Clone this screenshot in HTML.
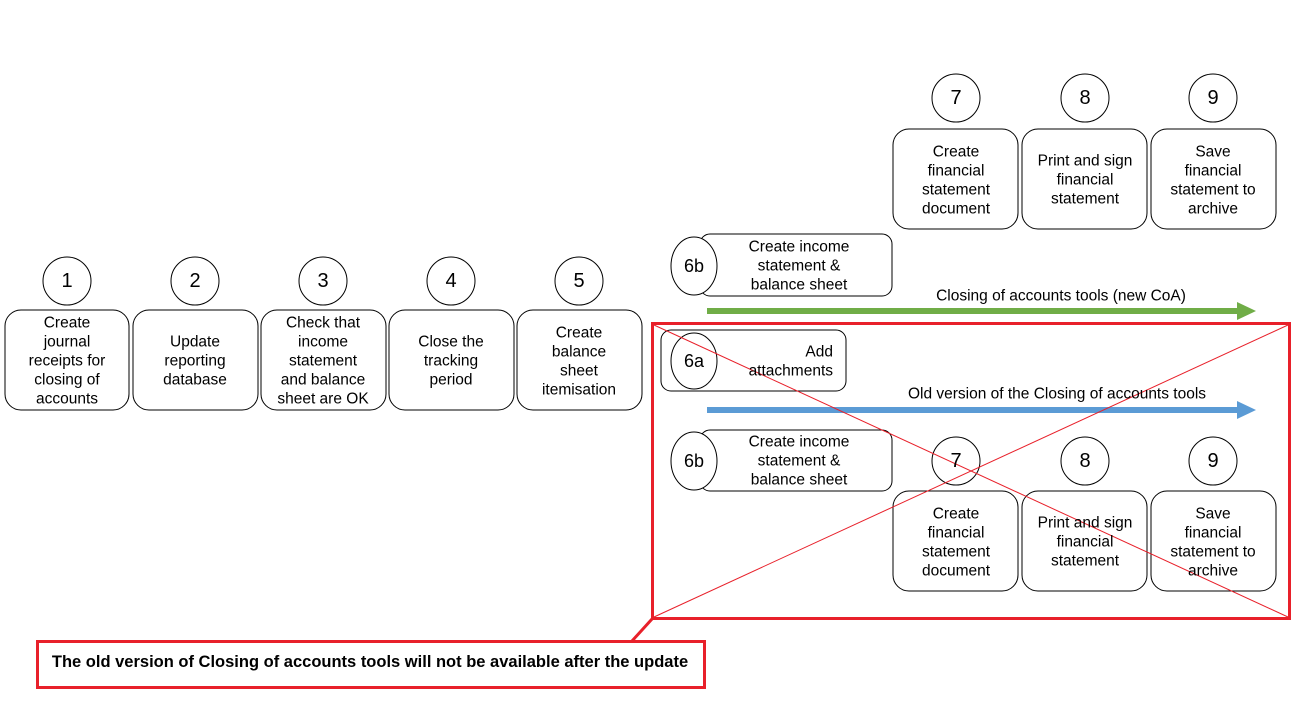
<!DOCTYPE html>
<html><head><meta charset="utf-8"><style>
html,body{margin:0;padding:0;background:#fff;}
svg{display:block;}
text{font-family:"Liberation Sans",sans-serif;font-size:15.5px;fill:#000;}
.n{font-size:20px;}
</style></head><body>
<svg width="1298" height="720" viewBox="0 0 1298 720" xmlns="http://www.w3.org/2000/svg">
<g fill="#fff" stroke="#000" stroke-width="1">
<rect x="5" y="310" width="124" height="100" rx="16"/>
<rect x="133" y="310" width="125" height="100" rx="16"/>
<rect x="261" y="310" width="125" height="100" rx="16"/>
<rect x="389" y="310" width="125" height="100" rx="16"/>
<rect x="517" y="310" width="125" height="100" rx="16"/>
<circle cx="67" cy="281" r="24"/>
<circle cx="195" cy="281" r="24"/>
<circle cx="323" cy="281" r="24"/>
<circle cx="451" cy="281" r="24"/>
<circle cx="579" cy="281" r="24"/>
<rect x="893" y="129" width="125" height="100" rx="16"/>
<rect x="1022" y="129" width="125" height="100" rx="16"/>
<rect x="1151" y="129" width="125" height="100" rx="16"/>
<circle cx="956" cy="98" r="24"/>
<circle cx="1085" cy="98" r="24"/>
<circle cx="1213" cy="98" r="24"/>
<rect x="700" y="234" width="192" height="62" rx="10"/>
<ellipse cx="694" cy="266" rx="23" ry="29"/>
<rect x="661" y="330" width="185" height="61" rx="10"/>
<ellipse cx="694" cy="361" rx="23" ry="28"/>
<rect x="700" y="430" width="192" height="61" rx="10"/>
<ellipse cx="694" cy="461" rx="23" ry="29"/>
<rect x="893" y="491" width="125" height="100" rx="16"/>
<rect x="1022" y="491" width="125" height="100" rx="16"/>
<rect x="1151" y="491" width="125" height="100" rx="16"/>
<circle cx="956" cy="461" r="24"/>
<circle cx="1085" cy="461" r="24"/>
<circle cx="1213" cy="461" r="24"/>
</g>
<rect x="707" y="308" width="532" height="6" fill="#70ad47"/>
<polygon points="1237,302 1256,311 1237,320" fill="#70ad47"/>
<rect x="707" y="407" width="532" height="6" fill="#5b9bd5"/>
<polygon points="1237,401 1256,410 1237,419" fill="#5b9bd5"/>
<rect x="652.5" y="323.5" width="637" height="295" fill="none" stroke="#e8202a" stroke-width="3"/>
<line x1="654" y1="325" x2="1288" y2="617" stroke="#e8202a" stroke-width="1"/>
<line x1="654" y1="617" x2="1288" y2="325" stroke="#e8202a" stroke-width="1"/>
<line x1="652" y1="619" x2="632" y2="641" stroke="#e8202a" stroke-width="3"/>
<rect x="37.5" y="641.5" width="667" height="46" fill="#fff" stroke="#e8202a" stroke-width="3"/>
<text x="370" y="662" text-anchor="middle" dominant-baseline="central" style="font-weight:bold;font-size:16.5px">The old version of Closing of accounts tools will not be available after the update</text>
<g text-anchor="middle" dominant-baseline="central">
<text class="n" x="67" y="281">1</text><text class="n" x="195" y="281">2</text><text class="n" x="323" y="281">3</text><text class="n" x="451" y="281">4</text><text class="n" x="579" y="281">5</text>
<text class="n" x="956" y="98">7</text><text class="n" x="1085" y="98">8</text><text class="n" x="1213" y="98">9</text>
<text class="n" x="956" y="461">7</text><text class="n" x="1085" y="461">8</text><text class="n" x="1213" y="461">9</text>
<text class="n" x="694" y="266" style="font-size:18px">6b</text>
<text class="n" x="694" y="361" style="font-size:18px">6a</text>
<text class="n" x="694" y="461" style="font-size:18px">6b</text>
<text x="67" y="323">Create</text><text x="67" y="342">journal</text><text x="67" y="361">receipts for</text><text x="67" y="380">closing of</text><text x="67" y="399">accounts</text>
<text x="195" y="342">Update</text><text x="195" y="361">reporting</text><text x="195" y="380">database</text>
<text x="323" y="323">Check that</text><text x="323" y="342">income</text><text x="323" y="361">statement</text><text x="323" y="380">and balance</text><text x="323" y="399">sheet are OK</text>
<text x="451" y="342">Close the</text><text x="451" y="361">tracking</text><text x="451" y="380">period</text>
<text x="579" y="333">Create</text><text x="579" y="352">balance</text><text x="579" y="371">sheet</text><text x="579" y="390">itemisation</text>
<text x="956" y="152">Create</text><text x="956" y="171">financial</text><text x="956" y="190">statement</text><text x="956" y="209">document</text>
<text x="1085" y="161">Print and sign</text><text x="1085" y="180">financial</text><text x="1085" y="199">statement</text>
<text x="1213" y="152">Save</text><text x="1213" y="171">financial</text><text x="1213" y="190">statement to</text><text x="1213" y="209">archive</text>
<text x="956" y="514">Create</text><text x="956" y="533">financial</text><text x="956" y="552">statement</text><text x="956" y="571">document</text>
<text x="1085" y="523">Print and sign</text><text x="1085" y="542">financial</text><text x="1085" y="561">statement</text>
<text x="1213" y="514">Save</text><text x="1213" y="533">financial</text><text x="1213" y="552">statement to</text><text x="1213" y="571">archive</text>
<text x="799" y="247">Create income</text><text x="799" y="266">statement &amp;</text><text x="799" y="285">balance sheet</text>
<text x="799" y="442">Create income</text><text x="799" y="461">statement &amp;</text><text x="799" y="480">balance sheet</text>
<text x="1061" y="296">Closing of accounts tools (new CoA)</text>
<text x="1057" y="394">Old version of the Closing of accounts tools</text>
</g>
<g text-anchor="end" dominant-baseline="central">
<text x="833" y="352">Add</text><text x="833" y="371">attachments</text>
</g>
</svg>
</body></html>
